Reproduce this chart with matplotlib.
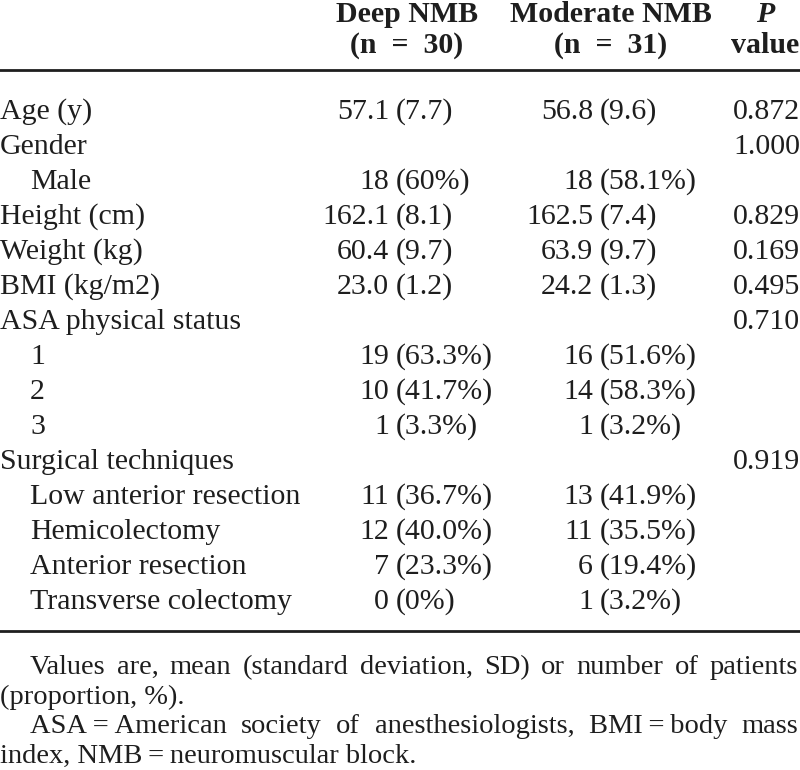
import matplotlib
matplotlib.use("Agg")
import matplotlib.pyplot as plt

plt.rcParams['font.family'] = ['Liberation Serif', 'DejaVu Serif']

# table content
labels = ["Age (y)", "Gender", "Male", "Height (cm)", "Weight (kg)", "BMI (kg/m2)",
          "ASA physical status", "1", "2", "3", "Surgical techniques",
          "Low anterior resection", "Hemicolectomy", "Anterior resection",
          "Transverse colectomy"]
sub_row = [False, False, True, False, False, False, False, True, True, True,
           False, True, True, True, True]
deep = ["57.1 (7.7)", "", "18 (60%)", "162.1 (8.1)", "60.4 (9.7)", "23.0 (1.2)",
        "", "19 (63.3%)", "10 (41.7%)", "1 (3.3%)", "",
        "11 (36.7%)", "12 (40.0%)", "7 (23.3%)", "0 (0%)"]
moderate = ["56.8 (9.6)", "", "18 (58.1%)", "162.5 (7.4)", "63.9 (9.7)", "24.2 (1.3)",
            "", "16 (51.6%)", "14 (58.3%)", "1 (3.2%)", "",
            "13 (41.9%)", "11 (35.5%)", "6 (19.4%)", "1 (3.2%)"]
pvals = ["0.872", "1.000", "", "0.829", "0.169", "0.495", "0.710", "", "", "",
         "0.919", "", "", "", ""]
headers = [("Deep NMB", "(n  =  30)"), ("Moderate NMB", "(n  =  31)")]
notes = [("Values are, mean (standard deviation, SD) or number of patients", True),
         ("(proportion, %).", False),
         ("ASA = American society of anesthesiologists, BMI = body mass", True),
         ("index, NMB = neuromuscular block.", False)]

W, H = 800, 770
fs = 21.5
fs_note = 20.5
col = '#1e1e1e'
fig = plt.figure(figsize=(W / 100, H / 100), dpi=100)
ax = fig.add_axes([0, 0, 1, 1])
ax.set_xlim(0, W)
ax.set_ylim(H, 0)
ax.axis('off')

# header
for cx, (h1, h2) in zip([407, 611], headers):
    ax.text(cx, 22, h1, ha='center', va='baseline', fontsize=fs, fontweight='bold', color=col)
    ax.text(cx, 53, h2, ha='center', va='baseline', fontsize=fs, fontweight='bold', color=col)
ax.text(765, 22, "P", ha='center', va='baseline', fontsize=fs, fontweight='bold',
        fontstyle='italic', color=col)
ax.text(765, 53, "value", ha='center', va='baseline', fontsize=fs, fontweight='bold', color=col)

ax.plot([0, W], [70, 70], color=col, lw=2)
ax.plot([0, W], [631, 631], color=col, lw=2)

# body
y0, dy = 119, 35
for i, lab in enumerate(labels):
    y = y0 + i * dy
    ax.text(30 if sub_row[i] else 0, y, lab, ha='left', va='baseline', fontsize=fs, color=col)
    for anchor, cell in [(396, deep[i]), (600, moderate[i])]:
        if cell:
            num, par = cell.split(" ", 1)
            ax.text(anchor - 7, y, num, ha='right', va='baseline', fontsize=fs, color=col)
            ax.text(anchor, y, par, ha='left', va='baseline', fontsize=fs, color=col)
    if pvals[i]:
        ax.text(733, y, pvals[i], ha='left', va='baseline', fontsize=fs, color=col)

# footnotes, justified lines
fig.canvas.draw()
rend = fig.canvas.get_renderer()
inv = ax.transData.inverted()
for j, (line, just) in enumerate(notes):
    y = 674 + j * 29.5
    x_start = 30 if just else 0
    line = line.replace(" = ", "\u2009=\u2009")
    if not just:
        ax.text(x_start, y, line, ha='left', va='baseline', fontsize=fs_note, color=col)
        continue
    words = line.split(" ")
    arts = [ax.text(0, y, w, ha='left', va='baseline', fontsize=fs_note, color=col)
            for w in words]
    widths = []
    for a in arts:
        bb = a.get_window_extent(rend)
        p0 = inv.transform((bb.x0, 0))[0]
        p1 = inv.transform((bb.x1, 0))[0]
        widths.append(p1 - p0)
    gap = (798 - x_start - sum(widths)) / (len(words) - 1)
    x = x_start
    for a, w in zip(arts, widths):
        a.set_x(x)
        x += w + gap

fig.savefig("out.png", dpi=100)
